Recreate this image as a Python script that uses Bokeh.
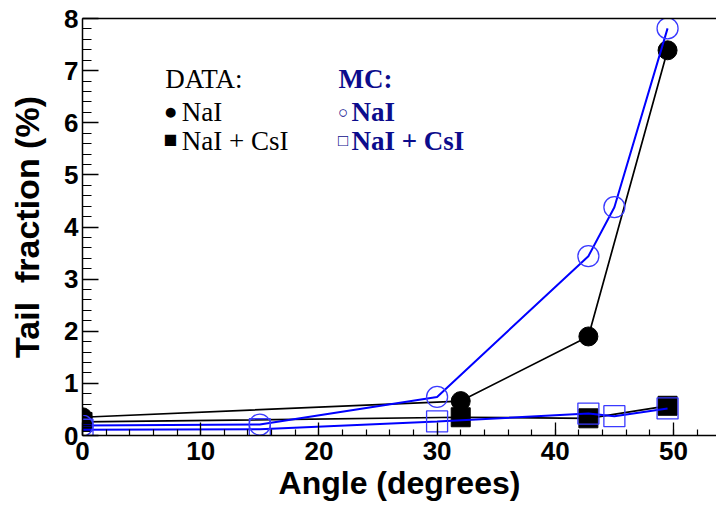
from bokeh.plotting import figure
from bokeh.models import Range1d, FixedTicker, LinearAxis, Label
from bokeh.embed import file_html
from bokeh.resources import INLINE

# ---- data ----
data_angle = [0, 32, 42.8, 49.5]
data_nai = [0.35, 0.66, 1.90, 7.39]
data_nai_csi = [0.26, 0.35, 0.33, 0.57]

mc_angle = [0, 15, 30, 42.8, 45, 49.5]
mc_nai = [0.19, 0.21, 0.74, 3.44, 4.38, 7.81]
mc_nai_csi = [0.11, 0.12, 0.27, 0.42, 0.37, 0.52]

x_ticks = [0, 10, 20, 30, 40, 50]
y_ticks = [0, 1, 2, 3, 4, 5, 6, 7, 8]

x_title = "Angle (degrees)"
y_title = "Tail \u00a0fraction (%)"
leg_data_title = "DATA:"
leg_mc_title = "MC:"
leg_names = ["NaI", "NaI + CsI"]

# ---- style ----
BLUE = "#0000ff"
MK_BLUE = "#3a3aff"
NAVY = "#0c0c8c"
SANS = "Liberation Sans"
SERIF = "Liberation Serif"

p = figure(width=716, height=506, x_range=Range1d(0, 53.64), y_range=Range1d(0, 8),
           output_backend="svg", toolbar_location=None)
p.min_border_left = 82
p.min_border_right = 0
p.min_border_top = 18
p.min_border_bottom = 71
p.outline_line_color = None
p.xgrid.visible = False
p.ygrid.visible = False
p.background_fill_color = "white"
p.border_fill_color = "white"

# axes
xa = p.xaxis[0]
xa.ticker = FixedTicker(ticks=x_ticks, minor_ticks=[v * 2 for v in range(27)])
xa.major_tick_in = 13
xa.major_tick_out = 0
xa.minor_tick_in = 6
xa.minor_tick_out = 0
xa.major_label_standoff = 6
xa.major_label_text_font = SANS
xa.major_label_text_font_style = "bold"
xa.major_label_text_font_size = "26px"
xa.major_label_text_color = "black"
xa.axis_line_width = 1.5
xa.major_tick_line_width = 1.3
xa.minor_tick_line_width = 1.2
xa.axis_label = x_title
xa.axis_label_standoff = 2
xa.axis_label_text_font = SANS
xa.axis_label_text_font_style = "bold"
xa.axis_label_text_font_size = "32px"
xa.axis_label_text_color = "black"

ya = p.yaxis[0]
ya.ticker = FixedTicker(ticks=y_ticks, minor_ticks=[v * 0.2 for v in range(41)])
ya.major_tick_in = 16
ya.major_tick_out = 0
ya.minor_tick_in = 9
ya.minor_tick_out = 0
ya.major_label_standoff = 4
ya.major_label_text_font = SANS
ya.major_label_text_font_style = "bold"
ya.major_label_text_font_size = "26px"
ya.major_label_text_color = "black"
ya.axis_line_width = 1.5
ya.major_tick_line_width = 1.3
ya.minor_tick_line_width = 1.2
ya.axis_label = y_title
ya.axis_label_standoff = 15
ya.axis_label_text_font = SANS
ya.axis_label_text_font_style = "bold"
ya.axis_label_text_font_size = "34px"
ya.axis_label_text_color = "black"

top = LinearAxis(ticker=FixedTicker(ticks=[]), major_label_text_font_size="0px",
                 axis_line_width=1.5, major_tick_line_color=None, minor_tick_line_color=None)
p.add_layout(top, "above")

# DATA series (black)
p.line(data_angle, data_nai, line_color="black", line_width=1.7)
p.line(data_angle, data_nai_csi, line_color="black", line_width=1.7)
p.scatter(data_angle, data_nai, marker="circle", size=19, fill_color="black", line_color="black")
p.scatter(data_angle, data_nai_csi, marker="square", size=19, fill_color="black", line_color="black")

# MC series (blue)
p.line(mc_angle, mc_nai, line_color=BLUE, line_width=2)
p.line(mc_angle, mc_nai_csi, line_color=BLUE, line_width=2)
p.scatter(mc_angle, mc_nai, marker="circle", size=21, fill_color=None, line_color=MK_BLUE, line_width=1.3)
p.scatter(mc_angle, mc_nai_csi, marker="square", size=21, fill_color=None, line_color=MK_BLUE, line_width=1.3)

# legend (text)
LX1, LX2 = 7.0, 21.66
LXS1, LXS2 = 8.4, 22.75
ROWS = [6.56, 5.92, 5.37]
p.add_layout(Label(x=LX1, y=ROWS[0], text=leg_data_title, text_font=SERIF, text_font_size="27px",
                   text_color="black"))
p.add_layout(Label(x=LX2, y=ROWS[0], text=leg_mc_title, text_font=SERIF, text_font_size="27px",
                   text_font_style="bold", text_color=NAVY))
for sym, row in zip(["\u25cf", "\u25a0"], ROWS[1:]):
    p.add_layout(Label(x=LX1 - 0.12, y=row + 0.06, text=sym, text_font=SERIF, text_font_size="23px",
                       text_color="black"))
for sym, row in zip(["\u25cb", "\u25a1"], ROWS[1:]):
    p.add_layout(Label(x=LX2 - 0.05, y=row + 0.1, text=sym, text_font=SERIF, text_font_size="17px",
                       text_color=NAVY))
for name, row in zip(leg_names, ROWS[1:]):
    p.add_layout(Label(x=LXS1, y=row, text=name, text_font=SERIF, text_font_size="27px",
                       text_color="black"))
    p.add_layout(Label(x=LXS2, y=row, text=name, text_font=SERIF, text_font_size="27px",
                       text_font_style="bold", text_color=NAVY))

open("out.html", "w").write(file_html(p, INLINE))
